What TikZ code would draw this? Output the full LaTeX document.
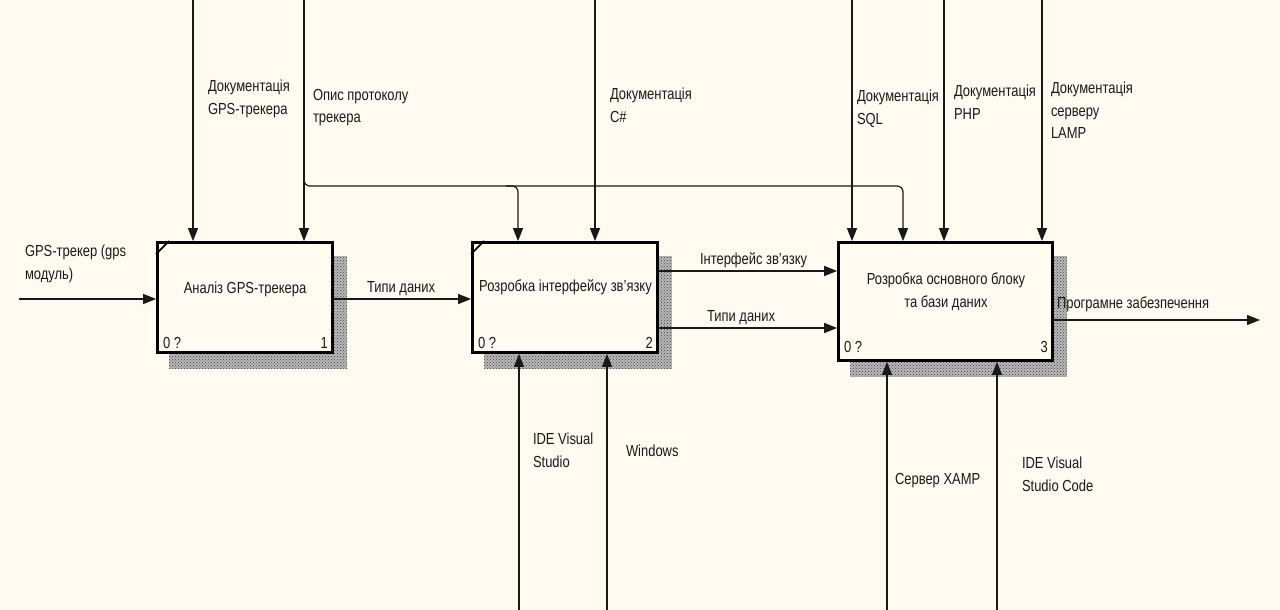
\documentclass[tikz,border=0pt]{standalone}
\usepackage{fontspec}
\setmainfont{Liberation Sans}[FakeStretch=0.81]
\usetikzlibrary{arrows.meta,patterns}
\definecolor{bg}{RGB}{255,251,241}
\definecolor{ink}{RGB}{25,25,25}
\pgfdeclarelayer{bglayer}
\pgfdeclarelayer{shadowlayer}
\pgfsetlayers{bglayer,shadowlayer,main}
\begin{document}
\begin{tikzpicture}[x=1pt,y=-1pt,
  every node/.style={font=\fontsize{16}{22.5}\selectfont, text=ink, inner sep=0pt, outer sep=0pt},
  lbl/.style={anchor=north west, align=left},
  box/.style={draw=black, line width=2.8pt, fill=bg, inner sep=0pt, outer sep=1.4pt},
  arr/.style={draw=ink, line width=1.2pt, -{Triangle[length=13pt,width=10pt]}},
  shadowfill/.style={fill=black!28, postaction={pattern=crosshatch dots, pattern color=black!75}},
  cornermark/.style={draw=black, line width=1.8pt},
  num/.style={anchor=base west}]
\useasboundingbox (0,0) rectangle (1280,610);
\begin{pgfonlayer}{bglayer}
\fill[bg] (0,0) rectangle (1280,610);
\end{pgfonlayer}

% boxes
\node[box, minimum width=175pt, minimum height=110pt] (b1) at (245,297.5) {};
\node[box, minimum width=185pt, minimum height=110pt] (b2) at (565,297.5) {};
\node[box, minimum width=214pt, minimum height=118pt] (b3) at (945.5,301.5) {};

\begin{pgfonlayer}{shadowlayer}
\foreach \b in {b1,b2,b3}{
  \path[shadowfill] ([shift={(13pt,-15pt)}]\b.north west) rectangle ([shift={(13pt,-15pt)}]\b.south east);
}
\end{pgfonlayer}

% corner marks
\draw[cornermark] ([yshift=-13pt]b1.north west) -- ([xshift=13pt]b1.north west);
\draw[cornermark] ([yshift=-13pt]b2.north west) -- ([xshift=13pt]b2.north west);

% box texts
\node[anchor=north] (b1t) at (245,282) {Аналіз GPS-трекера};
\node[anchor=north] (b2t) at (565.5,280) {Розробка інтерфейсу зв'язку};
\node[anchor=north, align=center] (b3t) at (946,273) {Розробка основного блоку\\та бази даних};

% corner numbers
\node[num] (b1n0) at ([shift={(7pt,5pt)}]b1.south west) {0 ?};
\node[num, anchor=base east] (b1n1) at ([shift={(-6pt,5pt)}]b1.south east) {1};
\node[num] (b2n0) at ([shift={(7pt,5pt)}]b2.south west) {0 ?};
\node[num, anchor=base east] (b2n1) at ([shift={(-6pt,5pt)}]b2.south east) {2};
\node[num] (b3n0) at ([shift={(7pt,9pt)}]b3.south west) {0 ?};
\node[num, anchor=base east] (b3n1) at ([shift={(-6pt,9pt)}]b3.south east) {3};

% coordinates of free ends
\coordinate (in1) at (19,299);
\coordinate (out3) at (1260,320);
\coordinate (c1) at (193,0);
\coordinate (c2) at (304,0);
\coordinate (c3) at (595,0);
\coordinate (c4) at (852,0);
\coordinate (c5) at (944,0);
\coordinate (c6) at (1042,0);
\coordinate (m1) at (519,610);
\coordinate (m2) at (607,610);
\coordinate (m3) at (887,610);
\coordinate (m4) at (997,610);
\coordinate (j1) at (304,176);
\coordinate (j2) at (518,186);
\coordinate (j3) at (903,186);

% inputs / outputs
\draw[arr] (in1) -- (in1 -| b1.west);
\draw[arr] (b1.east |- in1) -- (b2.west |- in1);
\draw[arr] (b2.east |- 0,271) -- (b3.west |- 0,271);
\draw[arr] (b2.east |- 0,328) -- (b3.west |- 0,328);
\draw[arr] (b3.east |- out3) -- (out3);

% controls
\draw[arr] (c1) -- (c1 |- b1.north);
\draw[arr] (c2) -- (c2 |- b1.north);
\draw[arr] (c3) -- (c3 |- b2.north);
\draw[arr] (c4) -- (c4 |- b3.north);
\draw[arr] (c5) -- (c5 |- b3.north);
\draw[arr] (c6) -- (c6 |- b3.north);
\draw[arr, rounded corners=6pt] (j1) |- (j3) -- (j3 |- b3.north);
\draw[arr, rounded corners=6pt] ([xshift=-12pt]j2) -| (j2 |- b2.north);

% mechanisms
\draw[arr] (m1) -- (m1 |- b2.south);
\draw[arr] (m2) -- (m2 |- b2.south);
\draw[arr] (m3) -- (m3 |- b3.south);
\draw[arr] (m4) -- (m4 |- b3.south);

% labels
\node[lbl] (l1) at (25,245) {GPS-трекер (gps\\модуль)};
\node[lbl] (l2) at (208,80) {Документація\\GPS-трекера};
\node[lbl] (l3) at (313,89) {Опис протоколу\\трекера};
\node[lbl] (l4) at (610,88) {Документація\\C\#};
\node[lbl] (l5) at (857,90) {Документація\\SQL};
\node[lbl] (l6) at (954,85) {Документація\\PHP};
\node[lbl] (l7) at (1051,82) {Документація\\серверу\\LAMP};
\node[lbl] (l8) at (367,281) {Типи даних};
\node[lbl] (l9) at (700,253) {Інтерфейс зв'язку};
\node[lbl] (l10) at (707,310) {Типи даних};
\node[lbl] (l11) at (1057,297) {Програмне забезпечення};
\node[lbl] (l12) at (533,433) {IDE Visual\\Studio};
\node[lbl] (l13) at (626,445) {Windows};
\node[lbl] (l14) at (895,473) {Сервер XAMP};
\node[lbl] (l15) at (1022,457) {IDE Visual\\Studio Code};
\end{tikzpicture}
\end{document}
